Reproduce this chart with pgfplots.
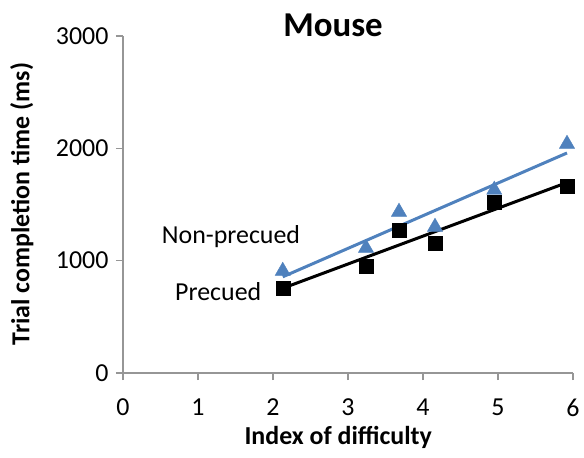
\documentclass[border=0pt]{standalone}
\usepackage{pgfplots}
\usepackage{pgfplotstable}
\pgfplotsset{compat=1.18}
\usepackage{fontspec}
\setmainfont{Carlito}
\definecolor{exblue}{RGB}{79,129,189}
\definecolor{axgray}{RGB}{150,150,150}

\pgfplotstableread{
x     pre   non
2.13  757   908
3.24  955   1113
3.68  1273  1434
4.16  1158  1300
4.95  1523  1630
5.92  1665  2039
}\mousedata

\begin{document}
\begin{tikzpicture}
\begin{axis}[
    scale only axis,
    width=450bp, height=337bp,
    xmin=0, xmax=6, ymin=0, ymax=3000,
    xtick={0,...,6},
    ytick={0,1000,2000,3000},
    axis x line*=bottom, axis y line*=left,
    axis line style={axgray, line width=1.5bp, -},
    tick style={axgray, line width=1.5bp},
    tick align=outside,
    major tick length=7bp,
    ticklabel style={font=\fontsize{26}{31}\selectfont},
    /pgf/number format/assume math mode=true,
    /pgf/number format/set thousands separator={},
    xticklabel style={yshift=-15bp},
    yticklabel style={xshift=-4bp},
    clip=false,
]
\addplot[black, line width=3bp] table[x=x, y={create col/linear regression={y=pre}}] {\mousedata};
\addplot[exblue, line width=3bp] table[x=x, y={create col/linear regression={y=non}}] {\mousedata};
\addplot[only marks, mark=square*, mark size=7bp, black] table[x=x, y=pre] {\mousedata};
\addplot[only marks, mark=triangle*, mark size=8.8bp, exblue, mark options={fill=exblue}] table[x=x, y=non] {\mousedata};
\node[font=\fontsize{26}{31}\selectfont] at (axis cs:1.44,1211) {Non-precued};
\node[font=\fontsize{26}{31}\selectfont] at (axis cs:1.27,721) {Precued};
\node[font=\bfseries\fontsize{35}{42}\selectfont] at (axis cs:2.8,3099) {Mouse};
\node[font=\bfseries\fontsize{26}{31}\selectfont] at (axis cs:2.87,-570) {Index of difficulty};
\node[font=\bfseries\fontsize{26}{31}\selectfont, rotate=90] at (axis cs:-1.35,1505) {Trial completion time (ms)};
\coordinate (o) at (rel axis cs:0,0);
\end{axis}
\path ([shift={(-123bp,-85bp)}]o) rectangle ([shift={(461bp,373bp)}]o);
\end{tikzpicture}
\end{document}
